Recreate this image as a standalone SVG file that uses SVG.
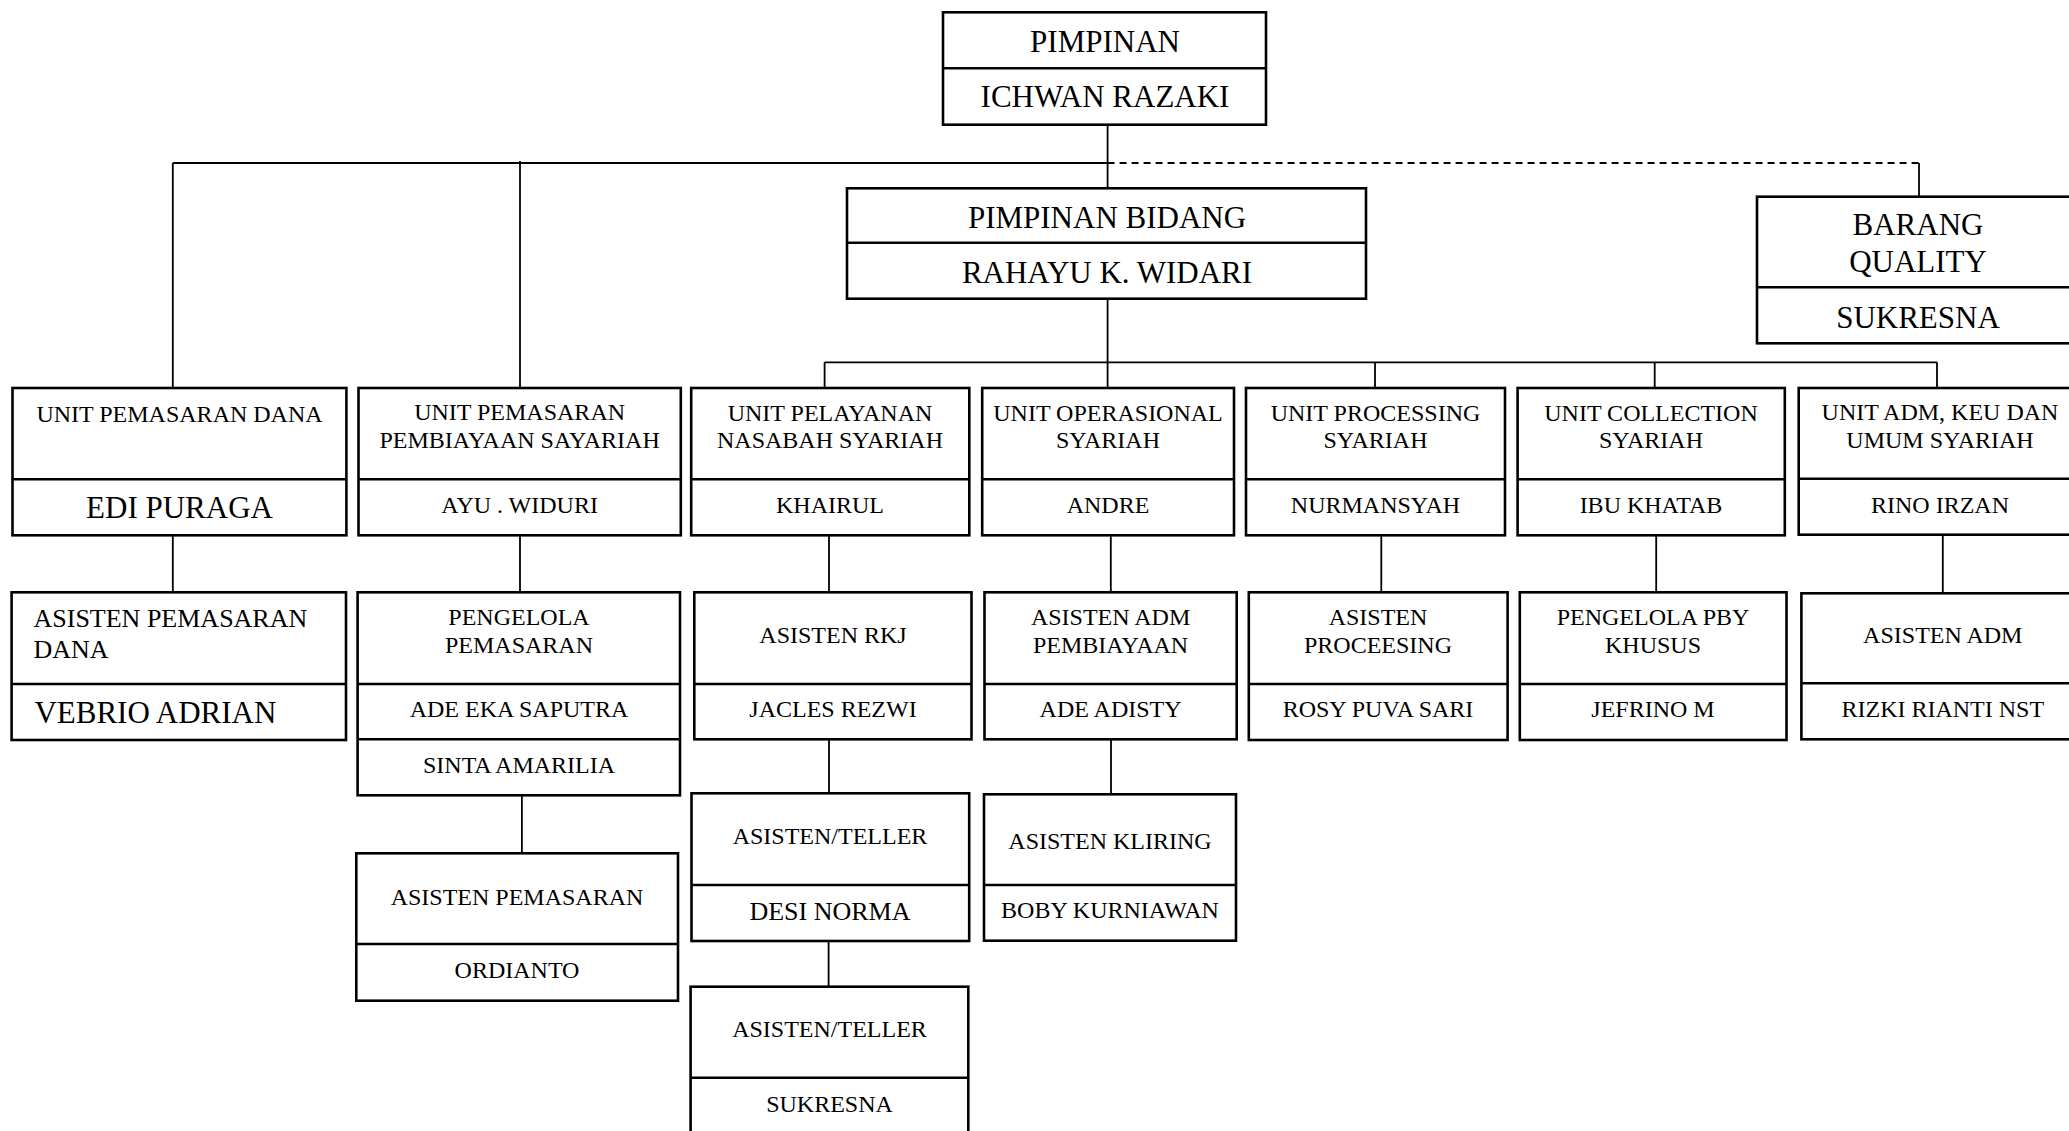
<svg xmlns="http://www.w3.org/2000/svg" width="2069" height="1131" viewBox="0 0 2069 1131">
<style>
.box{fill:#fff;stroke:#000;stroke-width:2.6}
.div{stroke:#000;stroke-width:2.6}
.con{stroke:#000;stroke-width:1.8;fill:none}
.dash{stroke:#000;stroke-width:1.8;fill:none;stroke-dasharray:7 5}
text{font-family:"Liberation Serif","Times New Roman",serif;fill:#000;text-anchor:middle}
.s{font-size:24px}
.m{font-size:26px}
.l{font-size:31px}
.left{text-anchor:start}
</style>
<rect width="2069" height="1131" fill="#fff"/>
<g id="connectors">
<path class="con" d="M1107.6 125V188.3"/>
<path class="con" d="M172.8 163H1107.6"/>
<path class="dash" d="M1107.6 163H1919"/>
<path class="con" d="M1919 163V196.7"/>
<path class="con" d="M172.8 163V388"/>
<path class="con" d="M520 161V388"/>
<path class="con" d="M1107.6 298.7V388"/>
<path class="con" d="M824.6 362.3H1937"/>
<path class="con" d="M824.6 362.3V388M1375 362.3V388M1654.7 362.3V388M1937 362.3V388"/>
<path class="con" d="M172.8 535V592M520 535V592M829 535V592M1110.8 535V592M1381.3 535V592M1656.2 535V592M1942.8 535V593"/>
<path class="con" d="M521.9 795V853M829 739V793.3M1111 739V794.3M828.6 941V987"/>
</g>
<g id="n-pimpinan">
<rect class="box" x="943" y="12.3" width="323" height="112.4"/>
<line class="div" x1="943" y1="68.3" x2="1266" y2="68.3"/>
<text class="l" x="1105" y="51.7">PIMPINAN</text>
<text class="l" x="1105" y="107.3">ICHWAN RAZAKI</text>
</g>
<g id="n-bidang">
<rect class="box" x="847" y="188.3" width="519" height="110.4"/>
<line class="div" x1="847" y1="242.7" x2="1366" y2="242.7"/>
<text class="l" x="1107" y="227.7">PIMPINAN BIDANG</text>
<text class="l" x="1107" y="282.7">RAHAYU K. WIDARI</text>
</g>
<g id="n-barang">
<rect class="box" x="1757" y="196.7" width="323" height="146.6"/>
<line class="div" x1="1757" y1="287.3" x2="2080" y2="287.3"/>
<text class="l" x="1918" y="235">BARANG</text>
<text class="l" x="1918" y="272">QUALITY</text>
<text class="l" x="1918" y="327.7">SUKRESNA</text>
</g>
<g id="n-pemasaran-dana">
<rect class="box" x="12.5" y="388" width="333.9" height="147.3"/>
<line class="div" x1="12.5" y1="479.3" x2="346.4" y2="479.3"/>
<text class="s" x="179.5" y="421.7">UNIT PEMASARAN DANA</text>
<text class="l" x="179.5" y="518.3">EDI PURAGA</text>
</g>
<g id="n-pemasaran-pembiayaan">
<rect class="box" x="358.5" y="388" width="322.3" height="147.3"/>
<line class="div" x1="358.5" y1="479.3" x2="680.8" y2="479.3"/>
<text class="s" x="519.6" y="420">UNIT PEMASARAN</text>
<text class="s" x="519.6" y="447.7">PEMBIAYAAN SAYARIAH</text>
<text class="s" x="519.6" y="512.7">AYU . WIDURI</text>
</g>
<g id="n-pelayanan">
<rect class="box" x="691.2" y="388" width="278.1" height="147.3"/>
<line class="div" x1="691.2" y1="479.3" x2="969.3" y2="479.3"/>
<text class="s" x="830" y="420.7">UNIT PELAYANAN</text>
<text class="s" x="830" y="448.3">NASABAH SYARIAH</text>
<text class="s" x="830" y="512.7">KHAIRUL</text>
</g>
<g id="n-operasional">
<rect class="box" x="982.2" y="388" width="251.8" height="147.3"/>
<line class="div" x1="982.2" y1="479.3" x2="1234" y2="479.3"/>
<text class="s" x="1108" y="420.7">UNIT OPERASIONAL</text>
<text class="s" x="1108" y="448.3">SYARIAH</text>
<text class="s" x="1108" y="512.7">ANDRE</text>
</g>
<g id="n-processing">
<rect class="box" x="1246" y="388" width="259" height="147.3"/>
<line class="div" x1="1246" y1="479.3" x2="1505" y2="479.3"/>
<text class="s" x="1375.5" y="420.7">UNIT PROCESSING</text>
<text class="s" x="1375.5" y="448.3">SYARIAH</text>
<text class="s" x="1375.5" y="512.7">NURMANSYAH</text>
</g>
<g id="n-collection">
<rect class="box" x="1517.6" y="388" width="267.2" height="147.3"/>
<line class="div" x1="1517.6" y1="479.3" x2="1784.8" y2="479.3"/>
<text class="s" x="1651" y="420.7">UNIT COLLECTION</text>
<text class="s" x="1651" y="448.3">SYARIAH</text>
<text class="s" x="1651" y="512.7">IBU KHATAB</text>
</g>
<g id="n-adm">
<rect class="box" x="1798.7" y="388" width="282.3" height="146.7"/>
<line class="div" x1="1798.7" y1="478.7" x2="2081" y2="478.7"/>
<text class="s" x="1940" y="420">UNIT ADM, KEU DAN</text>
<text class="s" x="1940" y="447.7">UMUM SYARIAH</text>
<text class="s" x="1940" y="512.7">RINO IRZAN</text>
</g>
<g id="n-asisten-pemasaran-dana">
<rect class="box" x="11.6" y="592.3" width="334.4" height="147.7"/>
<line class="div" x1="11.6" y1="684" x2="346" y2="684"/>
<text class="m left" x="33.5" y="626.7">ASISTEN PEMASARAN</text>
<text class="m left" x="33.5" y="658.3">DANA</text>
<text class="l left" x="34.4" y="723.3">VEBRIO ADRIAN</text>
</g>
<g id="n-pengelola-pemasaran">
<rect class="box" x="357.6" y="592.3" width="322.4" height="203"/>
<line class="div" x1="357.6" y1="684" x2="680" y2="684"/>
<line class="div" x1="357.6" y1="739.3" x2="680" y2="739.3"/>
<text class="s" x="519" y="625">PENGELOLA</text>
<text class="s" x="519" y="652.7">PEMASARAN</text>
<text class="s" x="519" y="716.7">ADE EKA SAPUTRA</text>
<text class="s" x="519" y="773.3">SINTA AMARILIA</text>
</g>
<g id="n-asisten-rkj">
<rect class="box" x="694.3" y="592.3" width="277.2" height="147"/>
<line class="div" x1="694.3" y1="684" x2="971.5" y2="684"/>
<text class="s" x="833" y="643.3">ASISTEN RKJ</text>
<text class="s" x="833" y="716.7">JACLES REZWI</text>
</g>
<g id="n-asisten-adm-pembiayaan">
<rect class="box" x="984.5" y="592.3" width="252.2" height="147"/>
<line class="div" x1="984.5" y1="684" x2="1236.7" y2="684"/>
<text class="s" x="1110.6" y="625">ASISTEN ADM</text>
<text class="s" x="1110.6" y="652.7">PEMBIAYAAN</text>
<text class="s" x="1110.6" y="716.7">ADE ADISTY</text>
</g>
<g id="n-asisten-proceesing">
<rect class="box" x="1248.8" y="592.3" width="258.8" height="147.7"/>
<line class="div" x1="1248.8" y1="684" x2="1507.6" y2="684"/>
<text class="s" x="1378" y="625">ASISTEN</text>
<text class="s" x="1378" y="652.7">PROCEESING</text>
<text class="s" x="1378" y="716.7">ROSY PUVA SARI</text>
</g>
<g id="n-pengelola-pby">
<rect class="box" x="1519.8" y="592.3" width="266.7" height="147.7"/>
<line class="div" x1="1519.8" y1="684" x2="1786.5" y2="684"/>
<text class="s" x="1653" y="625">PENGELOLA PBY</text>
<text class="s" x="1653" y="652.7">KHUSUS</text>
<text class="s" x="1653" y="716.7">JEFRINO M</text>
</g>
<g id="n-asisten-adm">
<rect class="box" x="1801.4" y="593.3" width="282.6" height="146"/>
<line class="div" x1="1801.4" y1="683.3" x2="2084" y2="683.3"/>
<text class="s" x="1942.8" y="643.3">ASISTEN ADM</text>
<text class="s" x="1942.8" y="716.7">RIZKI RIANTI NST</text>
</g>
<g id="n-asisten-pemasaran">
<rect class="box" x="356.3" y="853.3" width="321.7" height="147.4"/>
<line class="div" x1="356.3" y1="944" x2="678" y2="944"/>
<text class="s" x="517" y="905">ASISTEN PEMASARAN</text>
<text class="s" x="517" y="977.7">ORDIANTO</text>
</g>
<g id="n-teller-1">
<rect class="box" x="691.5" y="793.3" width="277.7" height="147.7"/>
<line class="div" x1="691.5" y1="885" x2="969.2" y2="885"/>
<text class="s" x="830" y="844.3">ASISTEN/TELLER</text>
<text class="m" x="830" y="920">DESI NORMA</text>
</g>
<g id="n-kliring">
<rect class="box" x="984" y="794.3" width="252" height="146.4"/>
<line class="div" x1="984" y1="885" x2="1236" y2="885"/>
<text class="s" x="1110" y="849">ASISTEN KLIRING</text>
<text class="s" x="1110" y="918.3">BOBY KURNIAWAN</text>
</g>
<g id="n-teller-2">
<rect class="box" x="690.6" y="986.7" width="277.7" height="150"/>
<line class="div" x1="690.6" y1="1077.7" x2="968.3" y2="1077.7"/>
<text class="s" x="829.5" y="1036.7">ASISTEN/TELLER</text>
<text class="s" x="829.5" y="1111.7">SUKRESNA</text>
</g>
</svg>
